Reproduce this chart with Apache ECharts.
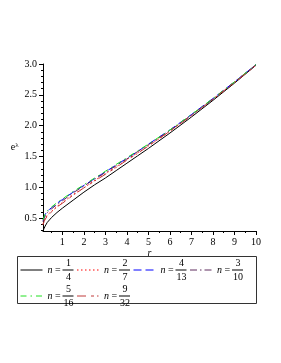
<!DOCTYPE html>
<html><head><meta charset="utf-8">
<script src="https://cdn.jsdelivr.net/npm/echarts@6/dist/echarts.min.js"></script>
<style>html,body{margin:0;padding:0;background:#fff}#c{width:281px;height:363px}</style>
</head><body><div id="c"></div>
<script>
const rValues = [0.1, 0.15, 0.2, 0.3, 0.4, 0.5, 0.75, 1, 1.5, 2, 2.5, 3, 3.5, 4, 4.5, 5, 6, 7, 8, 9, 10];
const n_1_4  = [0.29, 0.33, 0.37, 0.43, 0.47, 0.51, 0.59, 0.66, 0.79, 0.92, 1.04, 1.15, 1.27, 1.39, 1.51, 1.63, 1.88, 2.14, 2.41, 2.69, 2.98];
const n_2_7  = [0.40, 0.45, 0.49, 0.55, 0.58, 0.61, 0.69, 0.75, 0.88, 0.99, 1.11, 1.22, 1.33, 1.45, 1.56, 1.67, 1.91, 2.17, 2.43, 2.70, 2.98];
const n_4_13 = [0.46, 0.51, 0.56, 0.61, 0.64, 0.67, 0.74, 0.80, 0.92, 1.03, 1.14, 1.25, 1.36, 1.47, 1.58, 1.70, 1.93, 2.18, 2.44, 2.71, 2.99];
const n_3_10 = [0.44, 0.49, 0.53, 0.59, 0.62, 0.65, 0.72, 0.78, 0.91, 1.02, 1.13, 1.24, 1.35, 1.46, 1.58, 1.69, 1.92, 2.17, 2.43, 2.71, 2.99];
const n_5_16 = [0.47, 0.52, 0.57, 0.62, 0.65, 0.68, 0.75, 0.81, 0.93, 1.04, 1.15, 1.26, 1.37, 1.48, 1.59, 1.70, 1.93, 2.18, 2.44, 2.71, 2.99];
const n_9_32 = [0.39, 0.44, 0.48, 0.53, 0.57, 0.60, 0.68, 0.74, 0.87, 0.99, 1.10, 1.21, 1.32, 1.44, 1.55, 1.67, 1.91, 2.16, 2.43, 2.70, 2.98];
const xMajorTicks = [1, 2, 3, 4, 5, 6, 7, 8, 9, 10];
const xMinorTicks = [0.5, 1.5, 2.5, 3.5, 4.5, 5.5, 6.5, 7.5, 8.5, 9.5];
const yMajorTicks = [0.5, 1.0, 1.5, 2.0, 2.5, 3.0];
const yMinorTicks = [0.3, 0.4, 0.6, 0.7, 0.8, 0.9, 1.1, 1.2, 1.3, 1.4, 1.6, 1.7, 1.8, 1.9, 2.1, 2.2, 2.3, 2.4, 2.6, 2.7, 2.8, 2.9];
const fractions = [['1','4'], ['2','7'], ['4','13'], ['3','10'], ['5','16'], ['9','32']];

const seriesDefs = [
  {frac: fractions[0], data: n_1_4,  color: '#000000', dash: 'solid'},
  {frac: fractions[1], data: n_2_7,  color: '#ff0000', dash: [1.5, 2.5]},
  {frac: fractions[2], data: n_4_13, color: '#0000ff', dash: [8, 4]},
  {frac: fractions[3], data: n_3_10, color: '#5e2c5e', dash: [7, 3, 1.5, 3]},
  {frac: fractions[4], data: n_5_16, color: '#22e022', dash: [6, 4, 1.5, 4]},
  {frac: fractions[5], data: n_9_32, color: '#c03a3a', dash: [9, 5, 3, 3, 1.5, 3]}
];
const FONT = 'Liberation Serif';
const chart = echarts.init(document.getElementById('c'), null, {renderer: 'canvas'});
const names = seriesDefs.map(s => 'n = ' + s.frac[0] + '/' + s.frac[1]);
const fracMap = {};
seriesDefs.forEach((s, i) => fracMap[names[i]] = s.frac);

const common = {min: 0.1, max: 10};
const yCommon = {min: 0.29, max: 3.0};
chart.setOption({
  animation: false,
  backgroundColor: '#fff',
  grid: {left: 43, right: 25, top: 64, bottom: 132, containLabel: false},
  xAxis: [
    Object.assign({type: 'value', name: 'r', nameLocation: 'middle', nameGap: 16,
      nameTextStyle: {fontFamily: FONT, fontSize: 10, fontStyle: 'italic', color: '#000'},
      axisLine: {show: true, lineStyle: {color: '#000', width: 1}},
      axisTick: {show: true, length: 4, customValues: xMajorTicks, lineStyle: {color: '#000'}},
      axisLabel: {customValues: xMajorTicks, margin: 6, fontFamily: FONT, fontSize: 10, color: '#000'},
      splitLine: {show: false}}, common),
    Object.assign({type: 'value', position: 'bottom',
      axisLine: {show: false},
      axisTick: {show: true, length: 2, customValues: xMinorTicks, lineStyle: {color: '#000'}},
      axisLabel: {show: false}, splitLine: {show: false}}, common)
  ],
  yAxis: [
    Object.assign({type: 'value', name: '{e|e}{s|λ}', nameLocation: 'middle', nameGap: 24, nameRotate: 0,
      nameTextStyle: {rich: {e: {fontFamily: FONT, fontSize: 10, color: '#000', lineHeight: 12},
                             s: {fontFamily: FONT, fontSize: 7, color: '#000', verticalAlign: 'top', lineHeight: 12}}},
      axisLine: {show: true, lineStyle: {color: '#000', width: 1}},
      axisTick: {show: true, length: 4, customValues: yMajorTicks, lineStyle: {color: '#000'}},
      axisLabel: {customValues: yMajorTicks, margin: 6, fontFamily: FONT, fontSize: 10, color: '#000',
        formatter: v => v.toFixed(1)},
      splitLine: {show: false}}, yCommon),
    Object.assign({type: 'value', position: 'left',
      axisLine: {show: false},
      axisTick: {show: true, length: 2, customValues: yMinorTicks, lineStyle: {color: '#000'}},
      axisLabel: {show: false}, splitLine: {show: false}}, yCommon)
  ],
  legend: {
    left: 20, top: 258, width: 240, padding: 0, itemGap: 2, itemWidth: 22, itemHeight: 10, itemTextGap: 3,
    itemStyle: {opacity: 0},
    lineStyle: {width: 1},
    data: names,
    formatter: name => {
      const f = fracMap[name];
      return '{sp| }{num|' + f[0] + '}\n{ni|n}{eq| = }{bar| }{pad| }\n{sp| }{num|' + f[1] + '}';
    },
    textStyle: {
      fontFamily: FONT, fontSize: 10, color: '#000',
      rich: {
        sp: {width: 15, fontSize: 10, lineHeight: 10},
        num: {width: 12, align: 'center', fontFamily: FONT, fontSize: 10, lineHeight: 10, color: '#000'},
        ni: {width: 5, fontFamily: FONT, fontStyle: 'italic', fontSize: 10, lineHeight: 4, color: '#000'},
        eq: {width: 10, fontFamily: FONT, fontSize: 10, lineHeight: 4, color: '#000'},
        bar: {width: 11, height: 1, lineHeight: 4, fontSize: 1, backgroundColor: '#000'},
        pad: {width: 1, fontSize: 1, lineHeight: 4}
      }
    }
  },
  graphic: [{type: 'rect', shape: {x: 17.5, y: 256.5, width: 239, height: 47},
    style: {fill: 'none', stroke: '#333', lineWidth: 1}, silent: true}],
  series: seriesDefs.map((s, i) => ({
    name: names[i], type: 'line', xAxisIndex: 0, yAxisIndex: 0,
    data: rValues.map((r, j) => [r, s.data[j]]),
    symbol: 'none', smooth: false,
    lineStyle: {color: s.color, width: 1, type: s.dash},
    itemStyle: {color: s.color}
  }))
});
</script></body></html>
